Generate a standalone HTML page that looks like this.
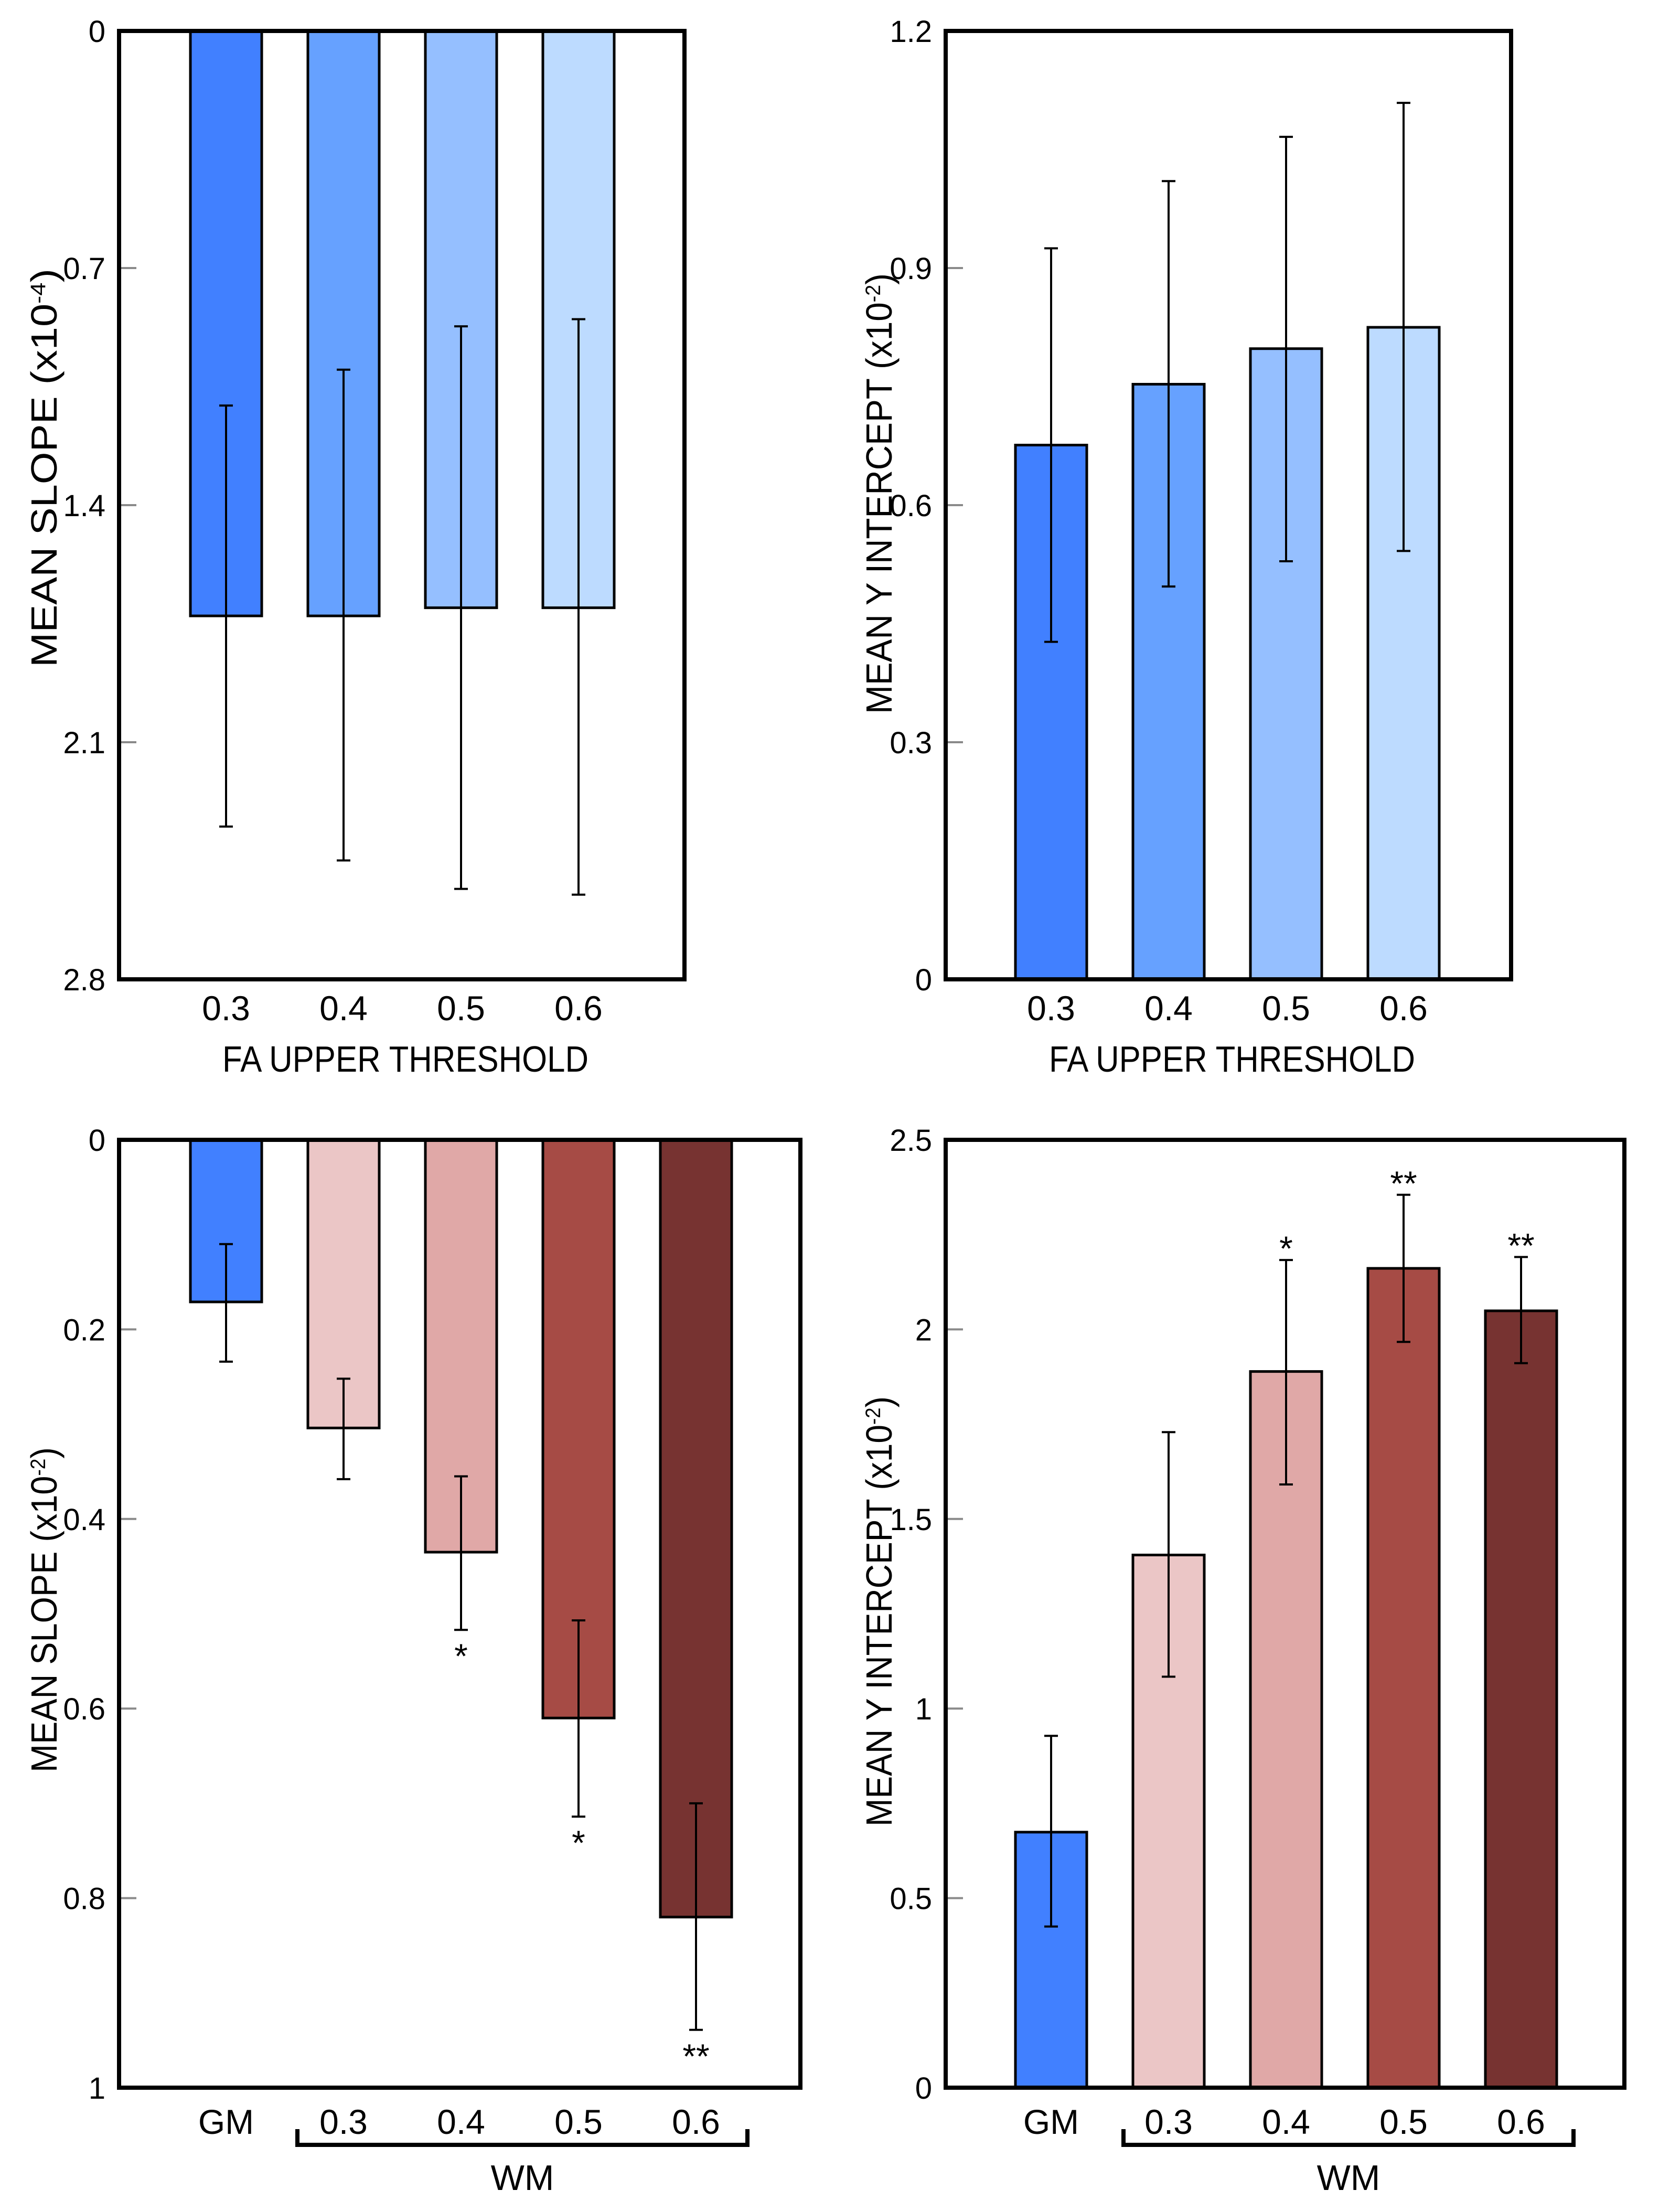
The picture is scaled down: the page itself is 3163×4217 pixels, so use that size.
<!DOCTYPE html>
<html><head><meta charset="utf-8"><style>
html,body{margin:0;padding:0;background:#fff;}
svg{display:block;font-family:"Liberation Sans",sans-serif;}
</style></head><body>
<svg id="fig" width="3163" height="4217" viewBox="0 0 3163 4217" xmlns="http://www.w3.org/2000/svg"></svg>
<script>
// Panel A: mean slope (x10^-4), inverted axis
const catsA = ["0.3","0.4","0.5","0.6"];
const slopeA = [1.727,1.727,1.703,1.703];
const slopeALo = [1.106,1.0,0.872,0.851];
const slopeAHi = [2.349,2.449,2.533,2.55];
const ticksA = [0,0.7,1.4,2.1,2.8];
const tickLabelsA = ["0","0.7","1.4","2.1","2.8"];
// Panel B: mean y intercept (x10^-2)
const interB = [0.676,0.753,0.798,0.825];
const interBLo = [0.427,0.497,0.529,0.542];
const interBHi = [0.925,1.010,1.066,1.109];
const ticksB = [0,0.3,0.6,0.9,1.2];
const tickLabelsB = ["0","0.3","0.6","0.9","1.2"];
// Panel C: mean slope (x10^-2), inverted
const catsC = ["GM","0.3","0.4","0.5","0.6"];
const slopeC = [0.171,0.304,0.435,0.610,0.820];
const slopeCLo = [0.110,0.252,0.355,0.507,0.700];
const slopeCHi = [0.234,0.358,0.517,0.714,0.939];
const starsC = ["","","*","*","**"];
const ticksC = [0,0.2,0.4,0.6,0.8,1];
const tickLabelsC = ["0","0.2","0.4","0.6","0.8","1"];
// Panel D: mean y intercept (x10^-2)
const interD = [0.674,1.405,1.889,2.161,2.049];
const interDLo = [0.425,1.084,1.591,1.967,1.911];
const interDHi = [0.928,1.729,2.183,2.355,2.191];
const starsD = ["","","*","**","**"];
const ticksD = [0,0.5,1,1.5,2,2.5];
const tickLabelsD = ["0","0.5","1","1.5","2","2.5"];

const blues = ["#4180ff","#66a1ff","#95bfff","#bddbff"];
const mixed = ["#4180ff","#ebc6c6","#e0a8a7","#a64b45","#773331"];

const NS = "http://www.w3.org/2000/svg";
const svg = document.getElementById("fig");
function mk(tag, attrs, parent, text){
  const e = document.createElementNS(NS, tag);
  for (const k in attrs) e.setAttribute(k, attrs[k]);
  if (text !== undefined) e.textContent = text;
  (parent||svg).appendChild(e);
  return e;
}

function panel(o){
  const g = mk("g", {});
  
  
  const L=o.x0, R=o.x1, T=o.y0, B=o.y1;
  const yScale = v => o.inverted ? T + (v - o.min)/(o.max - o.min)*(B-T) : B - (v - o.min)/(o.max - o.min)*(B-T);
  const xCenter = i => o.firstCenter + i*o.step;
  o.ticks.forEach((t,i)=>{
    const y = yScale(t);
    if (i>0 && i<o.ticks.length-1){
      const tk = mk("line",{x1:L,x2:L+33,y1:y,y2:y,stroke:"#8a8a8a","stroke-width":4},g);
      
      
    }
    const lb = mk("text",{x:L-26,y:y+21,"text-anchor":"end","font-size":58,fill:"#000"},g,o.tickLabels[i]);
    
    
  });
  o.values.forEach((v,i)=>{
    const cx = xCenter(i), w = 136;
    const y0 = yScale(0), y1 = yScale(v);
    const r = mk("rect",{x:cx-w/2,y:Math.min(y0,y1),width:w,height:Math.abs(y1-y0),fill:o.colors[i],stroke:"#000","stroke-width":5},g);
    
    
  });
  o.values.forEach((v,i)=>{
    const cx = xCenter(i);
    const ya = yScale(o.lo[i]), yb = yScale(o.hi[i]);
    const eg = mk("g",{stroke:"#000","stroke-width":4},g);
    
    
    mk("line",{x1:cx,x2:cx,y1:ya,y2:yb},eg);
    mk("line",{x1:cx-13,x2:cx+13,y1:ya,y2:ya},eg);
    mk("line",{x1:cx-13,x2:cx+13,y1:yb,y2:yb},eg);
    if (o.stars && o.stars[i]){
      let sy;
      if (o.inverted) sy = yScale(o.hi[i]) + 40; else sy = Math.min(ya,yb) - 32;
      const st = mk("text",{x:cx,y:sy+33,"text-anchor":"middle","font-size":66,fill:"#000"},g,o.stars[i]);
      
      
    }
  });
  const fr = mk("rect",{x:L,y:T,width:R-L,height:B-T,fill:"none",stroke:"#000","stroke-width":8},g);
  
  
  o.cats.forEach((c,i)=>{
    const t = mk("text",{x:xCenter(i),y:o.labelY+24,"text-anchor":"middle","font-size":66,fill:"#000"},g,c);
    
    
  });
  const yt = mk("text",{transform:`translate(${o.ytX},${o.ytY}) rotate(-90)`,"text-anchor":"middle","font-size":70,fill:"#000",textLength:o.ytLen,lengthAdjust:"spacingAndGlyphs"},g);
  
  
  mk("tspan",{},yt,o.ytMain);
  mk("tspan",{"baseline-shift":"super","font-size":40},yt,o.ytExp);
  mk("tspan",{},yt,")");
  if (o.xTitle){
    const xt = mk("text",{x:(L+R)/2+7,y:2043,"text-anchor":"middle","font-size":70,fill:"#000",textLength:698,lengthAdjust:"spacingAndGlyphs"},g,o.xTitle);
    
    
  }
  if (o.bracket){
    const [bx0,bx1] = o.bracket;
    const br = mk("path",{d:`M${bx0},4059 V4089 H${bx1} V4059`,fill:"none",stroke:"#000","stroke-width":8},g);
    
    
    const wm = mk("text",{x:(bx0+bx1)/2,y:4175,"text-anchor":"middle","font-size":68,fill:"#000"},g,"WM");
    
    
  }
}

panel({name:"panel-slope-fa",x0:227,x1:1305,y0:59,y1:1867,min:0,max:2.8,inverted:true,
  ticks:ticksA,tickLabels:tickLabelsA,values:slopeA,lo:slopeALo,hi:slopeAHi,cats:catsA,colors:blues,
  firstCenter:431,step:224,labelY:1921,ytX:108,ytY:892,ytLen:760,ytMain:"MEAN SLOPE (x10",ytExp:"-4",
  xTitle:"FA UPPER THRESHOLD"});
panel({name:"panel-intercept-fa",x0:1803,x1:2881,y0:59,y1:1867,min:0,max:1.2,inverted:false,
  ticks:ticksB,tickLabels:tickLabelsB,values:interB,lo:interBLo,hi:interBHi,cats:catsA,colors:blues,
  firstCenter:2004,step:224,labelY:1921,ytX:1700,ytY:941,ytLen:840,ytMain:"MEAN Y INTERCEPT (x10",ytExp:"-2",
  xTitle:"FA UPPER THRESHOLD"});
panel({name:"panel-slope-gm-wm",x0:227,x1:1526,y0:2173,y1:3980,min:0,max:1,inverted:true,
  ticks:ticksC,tickLabels:tickLabelsC,values:slopeC,lo:slopeCLo,hi:slopeCHi,cats:catsC,colors:mixed,stars:starsC,
  firstCenter:431,step:224,labelY:4044,ytX:108,ytY:3069,ytLen:620,ytMain:"MEAN SLOPE (x10",ytExp:"-2",
  bracket:[567,1425]});
panel({name:"panel-intercept-gm-wm",x0:1803,x1:3097,y0:2173,y1:3980,min:0,max:2.5,inverted:false,
  ticks:ticksD,tickLabels:tickLabelsD,values:interD,lo:interDLo,hi:interDHi,cats:catsC,colors:mixed,stars:starsD,
  firstCenter:2004,step:224,labelY:4044,ytX:1700,ytY:3072,ytLen:820,ytMain:"MEAN Y INTERCEPT (x10",ytExp:"-2",
  bracket:[2142,3000]});
</script>
</body></html>
